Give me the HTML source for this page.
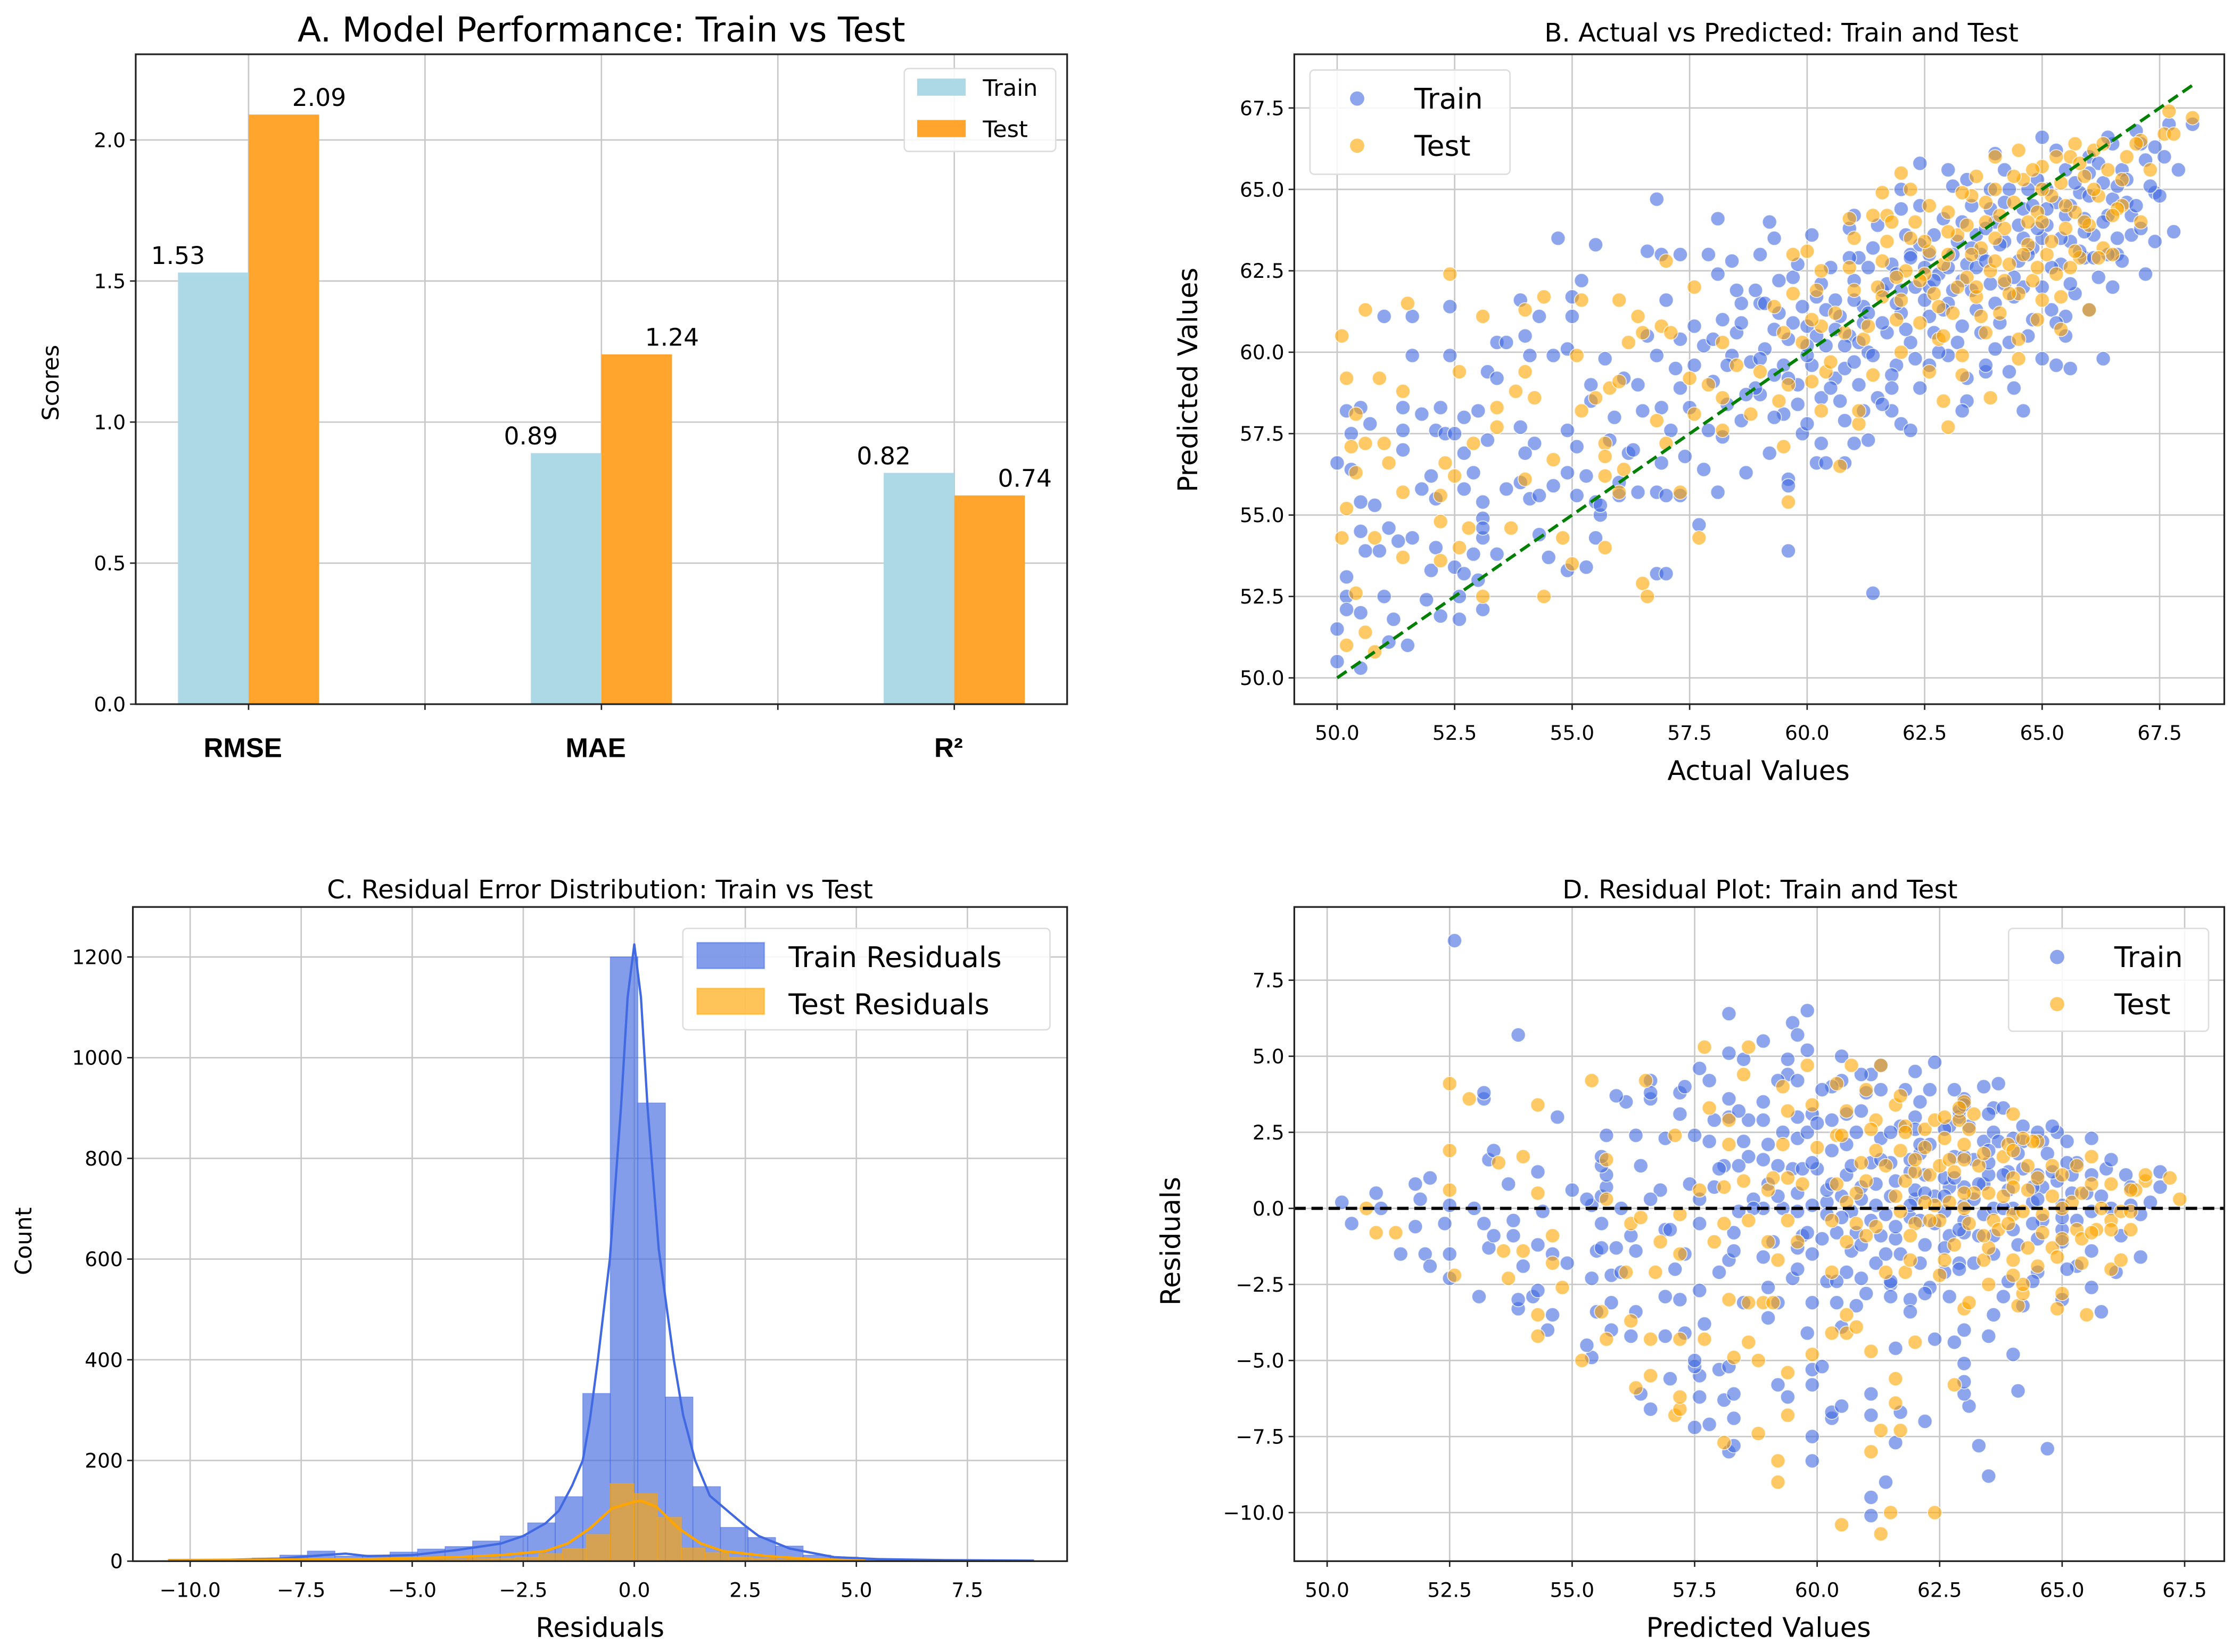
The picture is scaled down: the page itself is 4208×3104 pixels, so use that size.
<!DOCTYPE html>
<html><head><meta charset="utf-8"><style>
html,body{margin:0;padding:0;background:#fff;}
svg{display:block;font-family:"DejaVu Sans","Liberation Sans",sans-serif;}
</style></head><body>
<svg id="fig" width="4208" height="3104" viewBox="0 0 1568 1156.6" preserveAspectRatio="none" xmlns="http://www.w3.org/2000/svg"></svg>
<script>
// ---------- Panel A data ----------
const metricNames = ["RMSE", "MAE", "R²"];
const trainScores = [1.53, 0.89, 0.82];
const testScores = [2.09, 1.24, 0.74];
const scoreTicks = [0.0, 0.5, 1.0, 1.5, 2.0];
// ---------- Panel B/D data: [actual, predicted] ----------
const trainPoints = [[50.0,56.6],[50.2,58.2],[50.5,58.3],[50.3,57.5],[50.7,57.8],[51.0,61.1],[51.6,61.1],[51.6,59.9],[51.4,58.3],[51.4,57.6],[51.4,57.0],[51.8,58.1],[52.2,58.3],[52.4,61.4],[52.4,59.9],[52.1,57.6],[52.3,57.5],[52.5,57.5],[52.7,58.0],[53.0,58.2],[53.4,60.3],[53.6,60.3],[54.0,60.5],[53.9,61.6],[54.3,61.1],[54.7,63.5],[55.2,62.2],[55.5,63.3],[55.0,61.7],[55.0,61.1],[54.1,59.9],[54.6,59.9],[54.9,60.1],[53.2,59.4],[53.4,59.2],[53.9,57.7],[54.2,57.2],[54.0,56.9],[53.2,57.3],[52.7,56.9],[52.9,56.3],[52.0,56.2],[51.8,55.8],[52.1,55.5],[52.7,55.8],[53.1,55.4],[53.6,55.8],[53.9,56.0],[54.1,55.5],[54.3,55.6],[54.6,55.9],[54.9,56.3],[55.1,55.6],[55.3,56.2],[55.5,55.4],[55.6,55.0],[50.3,56.4],[50.5,55.4],[50.8,55.3],[51.1,54.6],[51.3,54.2],[51.6,54.3],[50.6,53.9],[50.9,53.9],[50.5,54.5],[52.1,54.0],[52.0,53.3],[52.5,53.4],[52.7,53.2],[52.9,53.8],[53.1,54.9],[53.1,54.3],[53.1,54.6],[53.0,53.0],[50.2,53.1],[50.2,52.5],[50.5,52.0],[50.2,52.1],[51.0,52.5],[51.2,51.8],[51.5,51.0],[51.1,51.1],[50.0,51.5],[50.0,50.5],[50.5,50.3],[51.9,52.4],[52.2,51.9],[52.6,51.8],[52.6,52.5],[53.1,52.1],[53.4,53.8],[54.3,54.4],[54.5,53.7],[54.9,53.3],[55.3,53.4],[55.5,54.3],[55.6,55.3],[55.4,59.0],[55.4,58.5],[54.9,57.6],[55.1,57.1],[55.7,59.8],[56.2,56.9],[56.0,56.0],[56.0,55.6],[56.4,55.7],[56.8,55.7],[57.0,55.6],[57.3,55.6],[56.8,53.2],[57.0,53.2],[56.8,64.7],[56.6,63.1],[56.9,63.0],[57.3,63.0],[57.9,63.0],[58.1,64.1],[58.4,62.8],[59.2,64.0],[59.3,63.5],[59.0,61.5],[58.6,61.5],[58.1,55.7],[57.7,54.7],[57.8,56.4],[59.6,53.9],[59.6,56.1],[61.4,52.6],[60.2,56.6],[60.8,56.6],[61.0,57.2],[61.2,58.2],[61.8,58.2],[62.0,57.8],[62.4,65.8],[63.4,65.3],[63.4,58.5],[64.6,58.2],[65.6,59.5],[66.3,59.8],[67.2,62.4],[67.8,63.7],[67.4,64.9],[68.2,67.0],[66.0,61.3],[65.5,61.1],[66.9,63.6],[66.6,63.5],[65.0,59.8],[64.3,59.4],[63.8,59.4],
[57.2,59.5],[57.5,58.3],[57.8,60.2],[57.9,57.6],[58.0,59.1],[58.2,61.0],[58.3,58.4],[58.5,60.6],[58.6,57.9],[58.8,59.7],[58.9,61.9],[59.0,58.7],[59.1,60.1],[59.2,56.9],[59.3,59.3],[59.4,61.2],[59.5,58.1],[59.6,60.4],[59.7,62.3],[59.8,59.0],[59.9,57.5],[60.0,60.8],[60.1,59.6],[60.2,61.7],[60.3,58.6],[60.4,60.2],[60.5,62.6],[60.6,59.2],[60.7,61.1],[60.8,57.9],[60.9,60.5],[61.0,62.2],[61.1,59.0],[61.2,61.4],[61.3,60.0],[61.4,63.2],[61.5,58.6],[61.6,61.9],[61.7,60.6],[61.8,62.7],[61.9,59.6],[62.0,61.2],[62.1,63.6],[62.2,60.3],[62.3,62.0],[62.4,58.9],[62.5,61.6],[62.6,63.0],[62.7,60.6],[62.8,62.4],[62.9,64.1],[63.0,59.9],[63.1,61.9],[63.2,63.4],[63.3,60.8],[63.4,62.7],[63.5,64.5],[63.6,61.3],[63.7,63.0],[63.8,59.6],[63.9,62.1],[64.0,64.0],[64.1,60.9],[64.2,63.4],[64.3,65.0],[64.4,61.7],[64.5,62.8],[64.6,64.4],[64.7,60.5],[64.8,63.2],[64.9,65.3],[65.0,62.0],[65.1,63.9],[65.2,61.3],[65.3,64.6],[65.4,62.7],[65.5,65.6],[65.6,63.4],[65.7,61.8],[65.8,64.9],[65.9,62.9],[66.0,66.0],[66.1,63.6],[66.2,62.3],[66.3,65.2],[66.4,64.2],[66.5,66.4],[66.6,63.0],[66.7,65.6],[66.8,64.6],[67.0,66.8],[67.1,63.8],[67.2,65.9],[67.4,66.3],[67.5,64.8],[67.7,67.0],[67.9,65.6],[57.0,61.6],[57.4,56.8],[58.1,62.4],[58.7,56.3],[59.0,63.0],[59.6,55.9],[60.1,63.6],[60.4,56.6],[61.0,64.2],[61.3,57.3],[62.0,65.0],[62.2,57.6],[63.0,65.6],[63.3,58.2],[64.0,66.1],[64.4,58.9],[65.0,66.6],[65.3,59.6],[58.4,59.9],[59.3,58.0],[60.6,60.7],[61.8,59.3],[62.6,62.0],[63.6,62.6],[64.6,63.5],[65.6,64.5],[59.9,61.4],[61.1,62.9],[62.4,64.5],[63.9,65.0],[60.8,59.5],[61.9,61.5],[63.0,62.6],[64.2,62.1],[65.9,63.7],[66.9,64.2],[56.5,58.2],[56.8,59.9],[57.1,57.6],[57.6,60.8],[56.3,57.0],[56.6,60.5],[55.9,58.0],[56.1,59.2],[56.9,56.6],[57.3,58.9],
[58.0,60.4],[58.3,59.6],[58.6,60.9],[58.9,58.9],[59.1,61.5],[59.3,60.7],[59.5,59.6],[59.7,60.9],[59.8,58.4],[60.0,59.9],[60.2,60.5],[60.3,62.1],[60.5,58.9],[60.6,61.6],[60.8,60.2],[60.9,62.9],[61.0,59.7],[61.2,60.9],[61.3,62.6],[61.4,59.9],[61.6,60.9],[61.7,62.1],[61.8,58.9],[62.0,61.9],[62.1,60.7],[62.2,63.0],[62.3,59.8],[62.5,62.6],[62.6,61.1],[62.7,63.6],[62.8,60.0],[63.0,61.5],[63.1,63.0],[63.2,60.3],[63.3,64.0],[63.5,61.9],[63.6,63.6],[63.7,60.6],[63.8,62.8],[64.0,61.5],[64.1,63.3],[64.2,64.6],[64.3,60.3],[64.5,63.9],[64.6,62.0],[64.7,65.0],[64.8,61.0],[65.0,63.5],[65.1,65.0],[65.2,62.6],[65.3,60.9],[65.5,64.2],[65.6,62.1],[65.7,65.2],[65.8,63.1],[66.0,64.8],[66.1,62.9],[66.2,65.8],[66.4,63.0],[66.5,64.7],[66.7,62.8],[66.8,65.3],[67.0,64.5],[67.1,66.4],[67.3,65.1],[67.6,66.0],[59.0,59.8],[59.4,62.2],[60.0,57.8],[60.7,58.5],[61.5,63.9],[62.4,63.3],[63.4,59.2],[63.9,64.4],[64.4,62.3],[64.9,63.8],[65.4,63.5],[65.9,64.1],[66.3,64.0],[66.6,65.1],[61.1,60.3],[61.9,62.4],[62.9,61.3],[63.3,62.2],[64.7,63.0],[60.4,61.3],[59.6,59.2],[58.7,58.7],[58.2,57.4],[57.6,59.6],[57.3,60.4],[56.9,58.3],[56.4,59.0],[55.8,57.3],[58.5,61.9],[59.8,62.7],[60.9,63.8],[62.0,64.4],[63.1,65.1],[64.2,65.6],[65.3,66.2],[66.4,66.6],[62.6,59.6],[61.6,58.4],[60.3,57.2],[64.0,60.1],[65.5,60.5],[66.5,62.0],[67.4,63.4],[61.0,61.6],[62.2,62.9],[63.5,63.2],[64.8,64.5],[66.0,65.5],[60.0,60.2],[61.3,61.2],[62.7,62.2],[63.8,63.8],[65.1,64.4]];
const testPoints = [[50.1,60.5],[50.2,59.2],[50.6,61.3],[50.9,59.2],[50.4,58.1],[51.4,58.8],[51.5,61.5],[52.4,62.4],[53.1,61.1],[50.3,57.1],[50.6,57.2],[51.0,57.2],[50.4,56.3],[51.1,56.6],[51.4,55.7],[50.2,55.2],[50.1,54.3],[50.8,54.3],[50.4,52.6],[50.6,51.4],[50.2,51.0],[50.8,50.8],[51.4,53.7],[52.2,54.8],[52.3,56.6],[52.2,55.6],[52.5,56.2],[52.6,59.4],[52.2,53.6],[52.6,54.0],[52.8,54.6],[52.9,57.2],[53.1,52.5],[53.4,58.3],[53.4,57.7],[53.8,58.8],[53.7,54.6],[54.0,61.3],[54.0,59.4],[54.0,56.1],[54.2,58.6],[54.4,61.7],[54.4,52.5],[54.6,56.7],[54.8,54.3],[55.0,53.5],[55.1,59.9],[55.2,61.6],[55.2,58.2],[55.5,58.6],[55.7,57.2],[55.7,56.8],[55.7,56.2],[55.7,54.0],[55.8,58.9],[56.0,61.6],[56.0,59.1],[56.0,55.7],[56.1,56.4],[56.2,60.3],[56.4,61.1],[56.5,60.6],[56.5,52.9],[56.6,52.5],[56.8,57.9],[56.9,60.8],[57.0,62.8],[57.0,57.2],[57.1,60.6],[57.3,55.7],[57.5,59.2],[57.6,62.0],[57.6,58.1],[57.7,54.3],[57.9,59.0],[58.2,60.3],[58.2,57.6],[58.2,58.6],[58.5,59.6],[58.8,58.1],[59.0,59.4],[59.3,61.4],[59.4,58.5],[59.5,57.1],[59.6,55.4],[59.6,59.0],[59.7,63.0],[60.0,63.1],[59.7,61.8],[60.1,59.1],[60.3,58.2],[60.3,60.8],[60.4,59.4],[60.7,56.5],[60.9,64.1],[61.1,57.8],[61.1,58.2],[61.4,64.2],[61.6,64.9],[61.7,64.2],[62.0,65.5],[62.6,59.4],[62.9,58.5],[63.0,57.7],[63.3,59.3],[63.9,58.6],[64.0,66.0],[64.5,59.8],[65.0,61.6],[65.4,60.7],[65.7,66.4],[66.0,61.3],[66.7,64.5],[67.1,64.0],[67.6,66.7],[67.8,66.7],[68.2,67.2],[67.7,67.4],[67.1,66.5],
[60.6,61.2],[60.9,62.6],[61.2,60.4],[61.5,62.0],[61.7,63.4],[61.9,61.0],[62.1,62.5],[62.3,64.0],[62.4,60.9],[62.6,63.1],[62.7,61.8],[62.9,62.7],[63.0,64.3],[63.1,61.2],[63.2,63.6],[63.4,62.3],[63.5,64.8],[63.6,61.7],[63.7,63.2],[63.8,64.0],[63.9,62.5],[64.0,65.0],[64.1,61.2],[64.2,63.8],[64.3,62.7],[64.4,64.6],[64.5,61.8],[64.6,65.3],[64.7,63.3],[64.8,62.2],[64.9,64.3],[65.0,65.7],[65.1,63.0],[65.2,64.8],[65.3,62.4],[65.4,65.2],[65.5,63.8],[65.6,66.0],[65.7,64.3],[65.8,62.9],[65.9,65.4],[66.0,63.9],[66.1,66.2],[66.2,64.8],[66.3,63.2],[66.4,65.6],[66.6,64.4],[66.8,66.0],[62.0,60.0],[62.8,60.4],[63.3,59.9],[61.4,59.3],[60.5,59.7],[59.9,60.3],[60.2,61.9],[61.0,63.5],[62.2,65.0],[63.6,65.4],[64.5,66.2],[63.0,63.0],[64.0,63.5],[65.0,64.0],[61.6,61.7],[62.5,62.4],[66.5,63.0],[64.9,61.0],[63.8,60.6],
[61.6,62.8],[61.8,64.0],[62.0,61.6],[62.2,63.5],[62.4,62.2],[62.6,64.5],[62.8,61.4],[63.0,63.7],[63.2,62.0],[63.3,64.9],[63.5,63.0],[63.6,62.0],[63.8,64.6],[64.0,62.8],[64.1,64.2],[64.3,61.8],[64.4,65.4],[64.6,63.0],[64.7,64.0],[64.9,62.6],[65.0,65.0],[65.2,63.4],[65.3,66.0],[65.5,64.5],[65.6,62.6],[65.8,65.8],[65.9,64.0],[66.1,65.0],[66.3,66.4],[66.5,64.2],[66.7,65.3],[67.0,66.4],[67.3,65.6],[62.9,60.5],[63.7,61.1],[64.5,60.4],[65.4,61.7],[61.3,60.8],[60.8,60.6],[59.5,60.6],[60.3,62.5],[61.9,62.3],[62.5,63.4],[63.4,63.9],[64.2,62.2],[64.8,65.6],[65.7,63.1],[66.2,62.9],[60.1,61.0],[61.0,61.9]];
const bTicks = [50.0, 52.5, 55.0, 57.5, 60.0, 62.5, 65.0, 67.5];
// ---------- Panel C data ----------
const trainBinStart = -9.84, trainBinWidth = 0.62;
const trainCounts = [2,3,6,12,20,10,12,18,24,29,40,50,76,128,333,1200,910,326,148,67,47,30,12,8,4,3,2,1,1,1];
const testBinStart = -10.71, testBinWidth = 0.535;
const testCounts = [1,1,1,1,1,1,1,1,2,2,3,3,4,5,6,8,15,25,53,154,134,87,26,17,8,5,3,2,1,1];
const trainKdeX = [-10,-8,-7,-6.5,-6,-5,-4,-3,-2.5,-2,-1.7,-1.4,-1.16,-1,-0.82,-0.55,-0.3,-0.15,0,0.15,0.3,0.55,0.89,1.1,1.37,1.7,2.1,2.5,2.8,3.5,4.5,5.5,7,9];
const trainKdeY = [1,5,12,15,10,12,22,35,50,75,100,150,200,280,400,600,900,1120,1225,1120,900,620,400,290,200,130,100,70,50,25,8,4,2,1];
const testKdeX = [-10.5,-8,-6,-4,-3,-2,-1.5,-1,-0.5,0,0.15,0.5,1,1.5,2,3,4,5.2];
const testKdeY = [2,3,4,8,12,20,35,65,105,118,120,108,65,35,20,10,4,1];
const cXTicks = [-10.0,-7.5,-5.0,-2.5,0.0,2.5,5.0,7.5];
const cYTicks = [0,200,400,600,800,1000,1200];
const dYTicks = [-10.0,-7.5,-5.0,-2.5,0.0,2.5,5.0,7.5];

const NS = "http://www.w3.org/2000/svg";
const svg = document.getElementById("fig");
function mk(tag, attrs, parent) {
  const e = document.createElementNS(NS, tag);
  for (const k in attrs) e.setAttribute(k, attrs[k]);
  (parent || svg).appendChild(e);
  return e;
}
function txt(s, x, y, size, anchor, parent, extra) {
  const t = mk("text", Object.assign({x: x, y: y, "font-size": size, "text-anchor": anchor || "middle", fill: "#000"}, extra || {}), parent);
  t.textContent = s;
  return t;
}
function fmt1(v){ return (v < 0 ? "\u2212" : "") + Math.abs(v).toFixed(1); }
const BLUE = "#4169e1", ORANGE = "#ffa500";
const PR = 5;

function axesFrame(g, L, T, R, B) {
  const f = mk("rect", {x: L, y: T, width: R - L, height: B - T, fill: "none", stroke: "#222", "stroke-width": 1.2}, g);
  
  
}

// ================= Panel A =================
(function(){
  const g = mk("g", {});  
  const L = 95, R = 747, T = 38, B = 493;
  const sx = v => 174 + v * 247;
  const sy = v => 493 - v * 197.5;
  for (const v of [0, 0.5, 1, 1.5, 2]) {
    mk("line", {x1: sx(v), x2: sx(v), y1: T, y2: B, stroke: "#c8c8c8", "stroke-width": 1}, g);
    mk("line", {x1: sx(v), x2: sx(v), y1: B, y2: B + 4, stroke: "#222", "stroke-width": 1}, g);
  }
  scoreTicks.forEach(v => {
    mk("line", {x1: L, x2: R, y1: sy(v), y2: sy(v), stroke: "#c8c8c8", "stroke-width": 1}, g);
    mk("line", {x1: L - 4, x2: L, y1: sy(v), y2: sy(v), stroke: "#222", "stroke-width": 1}, g);
    const t = txt(v.toFixed(1), L - 7, sy(v) + 5, 14, "end", g);
     
  });
  metricNames.forEach((m, i) => {
    const b1 = mk("rect", {x: sx(i - 0.2), y: sy(trainScores[i]), width: sx(i) - sx(i - 0.2), height: sy(0) - sy(trainScores[i]), fill: "#add8e6"}, g);
     
    const b2 = mk("rect", {x: sx(i), y: sy(testScores[i]), width: sx(i + 0.2) - sx(i), height: sy(0) - sy(testScores[i]), fill: "#ffa52d"}, g);
     
    const l1 = txt(trainScores[i].toFixed(2), sx(i - 0.2), sy(trainScores[i]) - 6, 17, "middle", g);
     
    const l2 = txt(testScores[i].toFixed(2), sx(i + 0.2), sy(testScores[i]) - 6, 17, "middle", g);
     
    const cl = txt(m, sx(i) - 4, 530, 19, "middle", g, {"font-weight": "bold", "font-family": "Liberation Sans, sans-serif"});
     
  });
  axesFrame(g, L, T, R, B);
  const ttl = txt("A. Model Performance: Train vs Test", 421, 29, 24, "middle", g);
   
  const yl = txt("Scores", 0, 0, 16, "middle", g, {transform: "translate(41,268) rotate(-90)"});
   
  const lg = mk("g", {}, g);  
  mk("rect", {x: 633, y: 48, width: 106, height: 58, rx: 3, fill: "#fff", "fill-opacity": 0.85, stroke: "#ddd"}, lg);
  mk("rect", {x: 642, y: 55, width: 34, height: 12, fill: "#add8e6"}, lg);
  mk("rect", {x: 642, y: 84, width: 34, height: 12, fill: "#ffa52d"}, lg);
  txt("Train", 688, 67, 16, "start", lg); txt("Test", 688, 96, 16, "start", lg);
})();

// ================= Panel B =================
(function(){
  const g = mk("g", {});  
  const L = 906, R = 1557, T = 38, B = 493;
  const sx = v => 936 + (v - 50) * 32.9;
  const sy = v => 474.6 - (v - 50) * 22.8;
  bTicks.forEach(v => {
    mk("line", {x1: sx(v), x2: sx(v), y1: T, y2: B, stroke: "#c8c8c8", "stroke-width": 1}, g);
    mk("line", {x1: L, x2: R, y1: sy(v), y2: sy(v), stroke: "#c8c8c8", "stroke-width": 1}, g);
    mk("line", {x1: sx(v), x2: sx(v), y1: B, y2: B + 4, stroke: "#222"}, g);
    mk("line", {x1: L - 4, x2: L, y1: sy(v), y2: sy(v), stroke: "#222"}, g);
    const a = txt(v.toFixed(1), sx(v), B + 25, 14, "middle", g);  
    const b = txt(v.toFixed(1), L - 7, sy(v) + 5, 14, "end", g);  
  });
  trainPoints.forEach(p => {
    const c = mk("circle", {cx: sx(p[0]), cy: sy(p[1]), r: PR, fill: BLUE, "fill-opacity": 0.6, stroke: "#fff", "stroke-width": 0.6, "stroke-opacity": 0.8}, g);
     
  });
  testPoints.forEach(p => {
    const c = mk("circle", {cx: sx(p[0]), cy: sy(p[1]), r: PR, fill: ORANGE, "fill-opacity": 0.6, stroke: "#fff", "stroke-width": 0.6, "stroke-opacity": 0.8}, g);
     
  });
  const ln = mk("line", {x1: sx(50), y1: sy(50), x2: sx(68.2), y2: sy(68.2), stroke: "#008000", "stroke-width": 2.2, "stroke-dasharray": "8,4"}, g);
   
  axesFrame(g, L, T, R, B);
  const ttl = txt("B. Actual vs Predicted: Train and Test", 1247, 29, 18, "middle", g);
   
  const xl = txt("Actual Values", 1231, 546, 19, "middle", g);  
  const yl = txt("Predicted Values", 0, 0, 19, "middle", g, {transform: "translate(838,266) rotate(-90)"});
   
  const lg = mk("g", {}, g);  
  mk("rect", {x: 917, y: 49, width: 140, height: 73, rx: 3, fill: "#fff", "fill-opacity": 0.85, stroke: "#ddd"}, lg);
  mk("circle", {cx: 950, cy: 69, r: 5, fill: BLUE, "fill-opacity": 0.6}, lg);
  mk("circle", {cx: 950, cy: 102, r: 5, fill: ORANGE, "fill-opacity": 0.6}, lg);
  txt("Train", 990, 76, 20, "start", lg); txt("Test", 990, 109, 20, "start", lg);
})();

// ================= Panel C =================
(function(){
  const g = mk("g", {});  
  const L = 93, R = 747, T = 635, B = 1093;
  const sx = v => 444 + v * 31.09;
  const sy = v => 1093 - v * 0.3525;
  cXTicks.forEach(v => {
    mk("line", {x1: sx(v), x2: sx(v), y1: T, y2: B, stroke: "#c8c8c8"}, g);
    mk("line", {x1: sx(v), x2: sx(v), y1: B, y2: B + 4, stroke: "#222"}, g);
    const a = txt(fmt1(v), sx(v), B + 25, 14, "middle", g);  
  });
  cYTicks.forEach(v => {
    mk("line", {x1: L, x2: R, y1: sy(v), y2: sy(v), stroke: "#c8c8c8"}, g);
    mk("line", {x1: L - 4, x2: L, y1: sy(v), y2: sy(v), stroke: "#222"}, g);
    const b = txt(String(v), L - 7, sy(v) + 5, 14, "end", g);  
  });
  trainCounts.forEach((c, i) => {
    const x0 = trainBinStart + i * trainBinWidth;
    const r = mk("rect", {x: sx(x0), y: sy(c), width: sx(x0 + trainBinWidth) - sx(x0), height: sy(0) - sy(c), fill: BLUE, "fill-opacity": 0.65, stroke: BLUE, "stroke-opacity": 0.5, "stroke-width": 0.6}, g);
     
  });
  testCounts.forEach((c, i) => {
    const x0 = testBinStart + i * testBinWidth;
    const r = mk("rect", {x: sx(x0), y: sy(c), width: sx(x0 + testBinWidth) - sx(x0), height: sy(0) - sy(c), fill: ORANGE, "fill-opacity": 0.65, stroke: ORANGE, "stroke-opacity": 0.6, "stroke-width": 0.6}, g);
     
  });
  const kd1 = mk("polyline", {points: trainKdeX.map((x, i) => sx(x) + "," + sy(trainKdeY[i])).join(" "), fill: "none", stroke: BLUE, "stroke-width": 1.6, "stroke-linejoin": "round"}, g);
   
  const kd2 = mk("polyline", {points: testKdeX.map((x, i) => sx(x) + "," + sy(testKdeY[i])).join(" "), fill: "none", stroke: ORANGE, "stroke-width": 1.8, "stroke-linejoin": "round"}, g);
   
  axesFrame(g, L, T, R, B);
  const ttl = txt("C. Residual Error Distribution: Train vs Test", 420, 629, 18, "middle", g);
   
  const xl = txt("Residuals", 420, 1146, 19, "middle", g);  
  const yl = txt("Count", 0, 0, 16, "middle", g, {transform: "translate(22,869) rotate(-90)"});
   
  const lg = mk("g", {}, g);  
  mk("rect", {x: 478, y: 650, width: 257, height: 71, rx: 3, fill: "#fff", "fill-opacity": 0.85, stroke: "#ddd"}, lg);
  mk("rect", {x: 488, y: 660, width: 47, height: 18, fill: BLUE, "fill-opacity": 0.65, stroke: BLUE, "stroke-opacity": 0.5}, lg);
  mk("rect", {x: 488, y: 692, width: 47, height: 18, fill: ORANGE, "fill-opacity": 0.65, stroke: ORANGE, "stroke-opacity": 0.5}, lg);
  txt("Train Residuals", 552, 677, 20, "start", lg); txt("Test Residuals", 552, 710, 20, "start", lg);
})();

// ================= Panel D =================
(function(){
  const g = mk("g", {});  
  const L = 906, R = 1557, T = 635, B = 1093;
  const sx = v => 929 + (v - 50) * 34.3;
  const sy = v => 846 - v * 21.3;
  bTicks.forEach(v => {
    mk("line", {x1: sx(v), x2: sx(v), y1: T, y2: B, stroke: "#c8c8c8"}, g);
    mk("line", {x1: sx(v), x2: sx(v), y1: B, y2: B + 4, stroke: "#222"}, g);
    const a = txt(v.toFixed(1), sx(v), B + 25, 14, "middle", g);  
  });
  dYTicks.forEach(v => {
    mk("line", {x1: L, x2: R, y1: sy(v), y2: sy(v), stroke: "#c8c8c8"}, g);
    mk("line", {x1: L - 4, x2: L, y1: sy(v), y2: sy(v), stroke: "#222"}, g);
    const b = txt(fmt1(v), L - 7, sy(v) + 5, 14, "end", g);  
  });
  trainPoints.forEach(p => {
    const c = mk("circle", {cx: sx(p[1]), cy: sy(p[0] - p[1]), r: PR, fill: BLUE, "fill-opacity": 0.6, stroke: "#fff", "stroke-width": 0.6, "stroke-opacity": 0.8}, g);
     
  });
  testPoints.forEach(p => {
    const c = mk("circle", {cx: sx(p[1]), cy: sy(p[0] - p[1]), r: PR, fill: ORANGE, "fill-opacity": 0.6, stroke: "#fff", "stroke-width": 0.6, "stroke-opacity": 0.8}, g);
     
  });
  const zl = mk("line", {x1: L, x2: R, y1: sy(0), y2: sy(0), stroke: "#000", "stroke-width": 2.2, "stroke-dasharray": "8,4"}, g);
   
  axesFrame(g, L, T, R, B);
  const ttl = txt("D. Residual Plot: Train and Test", 1232, 629, 18, "middle", g);
   
  const xl = txt("Predicted Values", 1231, 1146, 19, "middle", g);  
  const yl = txt("Residuals", 0, 0, 19, "middle", g, {transform: "translate(826,869) rotate(-90)"});
   
  const lg = mk("g", {}, g);  
  mk("rect", {x: 1406, y: 650, width: 140, height: 72, rx: 3, fill: "#fff", "fill-opacity": 0.85, stroke: "#ddd"}, lg);
  mk("circle", {cx: 1440, cy: 670, r: 5, fill: BLUE, "fill-opacity": 0.6}, lg);
  mk("circle", {cx: 1440, cy: 703, r: 5, fill: ORANGE, "fill-opacity": 0.6}, lg);
  txt("Train", 1480, 677, 20, "start", lg); txt("Test", 1480, 710, 20, "start", lg);
})();
</script>
</body></html>
